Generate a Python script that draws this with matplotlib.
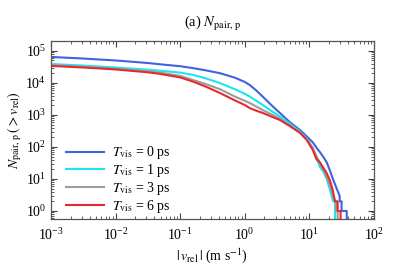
import numpy as np
import matplotlib
matplotlib.use("Agg")
import matplotlib.pyplot as plt

plt.rcParams['font.family'] = ['Liberation Serif', 'DejaVu Serif']
plt.rcParams['mathtext.fontset'] = 'stix'

# log10 of relative velocity (m/s) for the smooth part of the curves
log_v = [-3, -2.5, -2, -1.5, -1.31, -1.0, -0.8, -0.6, -0.38, -0.15, 0.0, 0.08, 0.18,
         0.28, 0.4, 0.545, 0.7, 0.855, 0.96, 1.056, 1.11, 1.164, 1.22, 1.27, 1.32]

# log10 of cumulative pair counts
log_n_blue = [4.81, 4.76, 4.70, 4.62, 4.58, 4.52, 4.46, 4.39, 4.30, 4.16, 4.03, 3.93, 3.76,
              3.57, 3.33, 3.06, 2.77, 2.53, 2.33, 2.14, 1.98, 1.84, 1.68, 1.52, 1.26]
log_n_cyan = [4.59, 4.54, 4.48, 4.41, 4.38, 4.32, 4.25, 4.14, 3.99, 3.80, 3.66, 3.57, 3.44,
              3.31, 3.14, 2.95, 2.72, 2.48, 2.26, 1.97, 1.66, 1.38, 1.22, 1.00, 0.66]
log_n_gray = [4.55, 4.50, 4.44, 4.36, 4.32, 4.22, 4.09, 3.96, 3.80, 3.57, 3.44, 3.37, 3.26,
              3.15, 3.03, 2.88, 2.67, 2.45, 2.24, 1.95, 1.72, 1.50, 1.28, 1.05, 0.82]
log_n_red = [4.53, 4.48, 4.42, 4.33, 4.28, 4.17, 4.04, 3.88, 3.68, 3.45, 3.31, 3.21, 3.13,
             3.06, 2.96, 2.84, 2.65, 2.44, 2.22, 1.90, 1.62, 1.52, 1.34, 1.18, 0.95]

# stair-step tails (v in m/s, integer counts); 0.1 marks the drop to zero
tail_v_blue = [23.2, 27.0, 29.5, 29.5, 31.6, 31.6, 38.0, 38.0]
tail_n_blue = [10, 4.6, 3, 2, 2, 1, 1, 0.1]
tail_v_cyan = [23.4, 23.4, 25.1, 25.1]
tail_n_cyan = [2, 2, 2, 0.1]
tail_v_gray = [22.4, 25.1, 25.1, 26.0, 26.0, 27.5, 27.5]
tail_n_gray = [4, 2, 2, 2, 1, 1, 0.1]
tail_v_red = [23.0, 25.0, 25.0, 27.5, 27.5, 30.5, 30.5]
tail_n_red = [4.6, 2, 2, 2, 1, 1, 0.1]

labels = [r'$T_{\rm vis}$ = 0 ps', r'$T_{\rm vis}$ = 1 ps', r'$T_{\rm vis}$ = 3 ps', r'$T_{\rm vis}$ = 6 ps']
colors = ['#3f63e0', '#19e6f0', '#9c9c9c', '#e8282c']

fig = plt.figure(figsize=(3.99, 2.78), dpi=100)
ax = fig.add_axes([0.128, 0.212, 0.809, 0.641])

v_smooth = np.power(10.0, log_v)
series = [(log_n_blue, tail_v_blue, tail_n_blue),
          (log_n_cyan, tail_v_cyan, tail_n_cyan),
          (log_n_gray, tail_v_gray, tail_n_gray),
          (log_n_red, tail_v_red, tail_n_red)]
for (ln, tv, tn), c, lab in zip(series, colors, labels):
    v = np.concatenate([v_smooth, tv])
    n = np.concatenate([np.power(10.0, ln), tn])
    ax.plot(v, n, color=c, lw=1.5, label=lab)

ax.set_xscale('log')
ax.set_yscale('log')
ax.set_xlim(1e-3, 1e2)
ax.set_ylim(0.56, 2.05e5)
ax.set_xticks([1e-3, 1e-2, 1e-1, 1e0, 1e1, 1e2])
ax.set_yticks([1e0, 1e1, 1e2, 1e3, 1e4, 1e5])
ax.tick_params(which='both', direction='in', top=True, right=True, labelsize=10, color='#444444')
ax.tick_params(which='major', length=4, width=0.8)
ax.tick_params(which='minor', length=2, width=0.6)
ax.tick_params(axis='x', pad=6)
for sp in ax.spines.values():
    sp.set_color('#555555')
    sp.set_linewidth(0.9)

ax.set_xlabel(r'$|\,v_{\rm rel}\,|$ (m s$^{-1}$)', fontsize=10, labelpad=2)
ax.set_ylabel(r'$N_{\rm pair,\,p}\,(>v_{\rm rel})$', fontsize=10, labelpad=1)
ax.set_title(r'(a) $N_{\rm pair,\,p}$', fontsize=10.5, pad=10)

ax.legend(loc='lower left', frameon=False, fontsize=10, handlelength=2.7,
          handletextpad=0.6, labelspacing=0.06, borderaxespad=0.0,
          bbox_to_anchor=(0.03, -0.008))

fig.savefig('out.png', dpi=100)
